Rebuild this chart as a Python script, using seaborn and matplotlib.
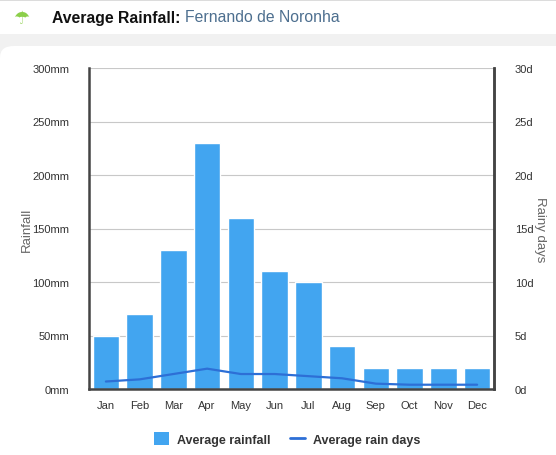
import numpy as np
import pandas as pd
import seaborn as sns
import matplotlib.pyplot as plt
from matplotlib.patches import FancyBboxPatch, Rectangle
from matplotlib.lines import Line2D
from matplotlib.patches import Patch

months = ['Jan', 'Feb', 'Mar', 'Apr', 'May', 'Jun', 'Jul', 'Aug', 'Sep', 'Oct', 'Nov', 'Dec']
rainfall_mm = [50, 70, 130, 230, 160, 110, 100, 40, 20, 20, 20, 20]
rain_days = [0.7, 0.9, 1.4, 1.9, 1.4, 1.4, 1.2, 1.0, 0.5, 0.4, 0.4, 0.4]
mm_ticks = [0, 50, 100, 150, 200, 250, 300]
day_ticks = [0, 5, 10, 15, 20, 25, 30]

bar_color = '#42a5f0'
line_color = '#2d6fd6'

sns.set_theme(style="white")
plt.rcParams['font.family'] = ['Liberation Sans', 'DejaVu Sans']

df = pd.DataFrame({'month': months, 'rain': rainfall_mm, 'days': rain_days,
                   'pos': np.arange(len(months))})

fig = plt.figure(figsize=(5.56, 4.56), dpi=100)
fig.patch.set_facecolor('white')

# page background: header strip, gray band, white card
fig.add_artist(Rectangle((0, 0), 1, 1 - 35 / 456, transform=fig.transFigure,
                         facecolor='#f1f1f1', edgecolor='none', zorder=-3))
fig.add_artist(FancyBboxPatch((0, -0.05), 1.05, 1 - 47 / 456 + 0.05,
                              boxstyle="round,pad=0,rounding_size=0.025",
                              transform=fig.transFigure, facecolor='white',
                              edgecolor='none', zorder=-2))
fig.add_artist(Rectangle((0, 1 - 2 / 456), 1, 2 / 456, transform=fig.transFigure,
                         facecolor='#dcdcdc', edgecolor='none', zorder=-1))

fig.text(21 / 556, 1 - 19 / 456, '\u2602', color='#8ccf4a', fontsize=13,
         ha='center', va='center', family='DejaVu Sans')
t = fig.text(52 / 556, 1 - 18 / 456, 'Average Rainfall: ', fontsize=11.3,
             fontweight='bold', color='#111111', ha='left', va='center')
fig.canvas.draw()
bb = t.get_window_extent()
fig.text(bb.x1 / fig.bbox.width, 1 - 18 / 456, 'Fernando de Noronha', fontsize=11.3,
         color='#4d6f8f', ha='left', va='center')

ax = fig.add_axes([89 / 556, 66 / 456, 405 / 556, 321 / 456])
ax.set_facecolor('none')
sns.barplot(data=df, x='pos', y='rain', color=bar_color, width=0.78,
            saturation=1, ax=ax, zorder=2)
ax.set_ylim(0, 300)
ax.set_xlim(-0.5, len(months) - 0.5)
ax.set_yticks(mm_ticks)
ax.set_yticklabels([f'{v}mm' for v in mm_ticks], fontsize=8, color='#333333')
ax.set_xticks(np.arange(len(months)))
ax.set_xticklabels(months, fontsize=8, color='#333333')
ax.set_xticks(np.arange(len(months) + 1) - 0.5, minor=True)
ax.tick_params(axis='x', which='major', length=0, pad=8)
ax.tick_params(axis='x', which='minor', length=7, color='#cccccc', width=1)
ax.tick_params(axis='y', length=0, pad=14)
ax.yaxis.grid(True, color='#c8c8c8', linewidth=0.8, zorder=0)
ax.set_axisbelow(True)
ax.set_xlabel('')
ax.set_ylabel('Rainfall', fontsize=9.5, color='#666666', va='center')
ax.yaxis.set_label_coords((27 - 89) / 405, 0.5)
for side in ['left', 'right', 'bottom']:
    ax.spines[side].set_visible(True)
    ax.spines[side].set_color('#444444')
    ax.spines[side].set_linewidth(1.8)
ax.spines['top'].set_visible(False)

ax2 = ax.twinx()
sns.lineplot(data=df, x='pos', y='days', color=line_color, linewidth=1.6, ax=ax2)
ax2.set_ylim(0, 30)
ax2.set_xlim(-0.5, len(months) - 0.5)
ax2.set_yticks(day_ticks)
ax2.set_yticklabels([f'{v}d' for v in day_ticks], fontsize=8, color='#333333')
ax2.tick_params(axis='y', length=0, pad=15)
ax2.set_ylabel('Rainy days', fontsize=9.5, color='#666666', rotation=270, va='center')
ax2.yaxis.set_label_coords((540 - 89) / 405, 0.5)
for side in ['left', 'top', 'bottom']:
    ax2.spines[side].set_visible(False)
ax2.spines['right'].set_color('#444444')
ax2.spines['right'].set_linewidth(1.8)

handles = [Patch(facecolor=bar_color, edgecolor='none', label='Average rainfall'),
           Line2D([0], [0], color=line_color, linewidth=2, label='Average rain days')]
fig.legend(handles=handles, loc='center', bbox_to_anchor=(287 / 556, 1 - 440 / 456),
           ncol=2, frameon=False, prop={'size': 9, 'weight': 'bold'},
           labelcolor='#333333', handlelength=1.2, handleheight=1.2,
           columnspacing=1.6, handletextpad=0.6)

fig.savefig('out.png', dpi=100)
